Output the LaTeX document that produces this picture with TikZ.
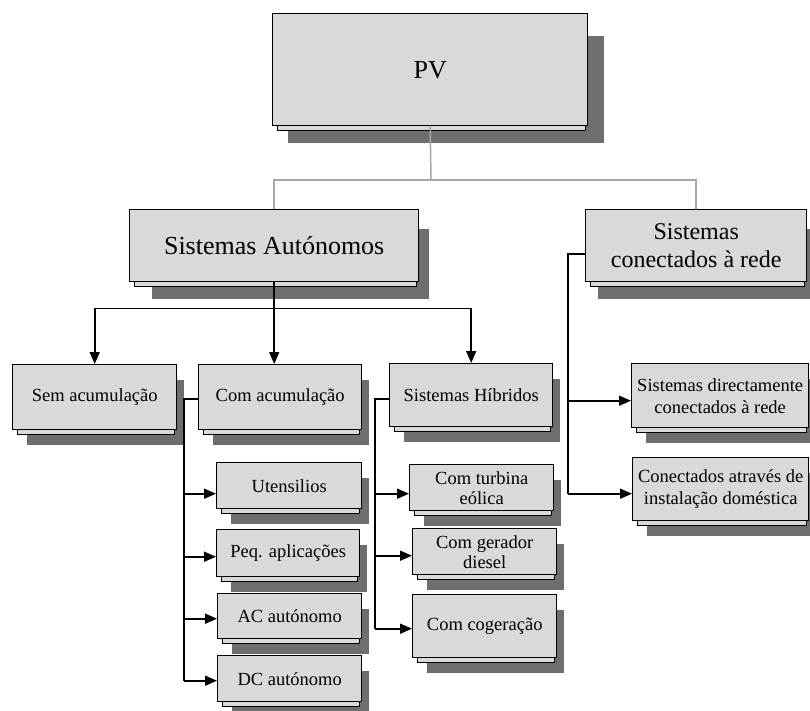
\documentclass[tikz,border=0pt]{standalone}
\usepackage{fontspec}
\setmainfont{Liberation Serif}
\usetikzlibrary{arrows.meta,calc}
\pgfdeclarelayer{background}
\pgfsetlayers{background,main}
\definecolor{boxfill}{HTML}{D9D9D9}
\definecolor{shadowgray}{HTML}{6E6E6E}
\definecolor{treegray}{HTML}{A8A8A8}

\tikzset{
  box/.style={draw=black, line width=1.4pt, fill=boxfill, align=center,
    inner sep=2pt, anchor=north west},
  big/.style={font=\fontsize{26}{30}\selectfont},
  mid/.style={font=\fontsize{24}{28}\selectfont},
  small/.style={font=\fontsize{18.5}{22}\selectfont},
  tight/.style={font=\fontsize{18.5}{20}\selectfont},
  tree/.style={draw=treegray, line width=1.5pt},
  link/.style={draw=black, line width=1.7pt},
  arr/.style={link, -{Triangle[length=12pt,width=10pt]}},
}

% drop shadow plus the thin plate under a box
% #1 node, #2/#3 shadow offset of the upper-left corner, #4/#5 of the lower-right corner
\newcommand\boxlayers[5]{%
  \fill[shadowgray] ($(#1.north west)+(#2,#3)$) rectangle ($(#1.south east)+(#4,#5)$);
  \filldraw[fill=boxfill, draw=black, line width=1pt]
    ($(#1.north west)+(5,5)$) rectangle ($(#1.south east)+(-3,4)$);
}

\begin{document}
\begin{tikzpicture}[x=1pt, y=-1pt]
\useasboundingbox (0,0) rectangle (810,711);

% boxes
\node[box, big, minimum width=315pt, minimum height=112pt] (PV) at (272,13) {PV};
\node[box, big, minimum width=289pt, minimum height=72pt] (SA) at (129,209) {Sistemas Autónomos};
\node[box, mid, minimum width=221pt, minimum height=72pt] (SC) at (585,209) {Sistemas\\conectados à rede};

\node[box, small, minimum width=164pt, minimum height=65pt] (Sem) at (12,364) {Sem acumulação};
\node[box, small, minimum width=163pt, minimum height=65pt] (Com) at (198,364) {Com acumulação};
\node[box, small, minimum width=163pt, minimum height=63pt] (SH) at (389,363) {Sistemas Híbridos};

\node[box, small, minimum width=177pt, minimum height=64pt] (SD) at (631,363) {Sistemas directamente\\conectados à rede};
\node[box, small, minimum width=176pt, minimum height=63pt] (CA) at (632,457) {Conectados através de\\instalação doméstica};

\node[box, small, minimum width=145pt, minimum height=46pt] (Ut) at (216,462) {Utensilios};
\node[box, small, minimum width=143pt, minimum height=47pt] (Peq) at (216,529) {Peq. aplicações};
\node[box, small, minimum width=144pt, minimum height=45pt] (AC) at (217,593) {AC autónomo};
\node[box, small, minimum width=144pt, minimum height=46pt] (DC) at (217,655) {DC autónomo};

\node[box, tight, minimum width=144pt, minimum height=46pt] (CT) at (409,464) {Com turbina\\eólica};
\node[box, tight, minimum width=144pt, minimum height=46pt] (CG) at (412,528) {Com gerador\\diesel};
\node[box, small, minimum width=144pt, minimum height=63pt] (CC) at (412,594) {Com cogeração};

% shadows and plates
\begin{pgfonlayer}{background}
  \boxlayers{PV}{16}{23}{16}{17}
  \boxlayers{SA}{23}{20}{10}{17}
  \boxlayers{SC}{13}{20}{10}{17}
  \foreach \n in {Sem,Com,SH,SD,CA,Ut,Peq,AC,DC,CT,CG,CC}
    {\boxlayers{\n}{15}{16}{7}{15}}
\end{pgfonlayer}

% top-level tree
\coordinate (j) at (431,180);
\draw[tree] (PV.south) -- (j);
\draw[tree] (SA.north) |- (j) -| (SC.north);

% stand-alone systems
\coordinate (sabus) at ($(SA.south)+(0,26)$);
\draw[arr] (SA.south) -- (SA.south |- Com.north);
\draw[arr] (sabus) -| (Sem.north);
\draw[arr] (sabus) -| (SH.north);

% entry points on the left sides
\coordinate (Ut-in) at ($(Ut.west)+(0,8)$);
\coordinate (Peq-in) at ($(Peq.west)+(0,3.5)$);
\coordinate (AC-in) at ($(AC.west)+(0,2.5)$);
\coordinate (DC-in) at ($(DC.west)+(0,2)$);
\coordinate (CT-in) at ($(CT.west)+(0,6)$);
\coordinate (CG-in) at ($(CG.west)+(0,4)$);
\coordinate (CC-in) at ($(CC.west)+(0,2.5)$);
\coordinate (SD-in) at ($(SD.west)+(0,5)$);
\coordinate (CA-in) at ($(CA.west)+(0,4.5)$);

% with storage
\coordinate (cbus) at ($(Com.west)+(-14,2)$);
\draw[link] ($(Com.west)+(0,2)$) -- (cbus) -- (cbus |- DC-in);
\foreach \t in {Ut,Peq,AC,DC}
  {\draw[arr] (cbus |- \t-in) -- (\t-in);}

% hybrid systems
\coordinate (hbus) at ($(SH.west)+(-14,4)$);
\draw[link] ($(SH.west)+(0,4)$) -- (hbus) -- (hbus |- CC-in);
\foreach \t in {CT,CG,CC}
  {\draw[arr] (hbus |- \t-in) -- (\t-in);}

% grid-connected systems
\coordinate (SC-out) at ($(SC.west)+(0,8)$);
\coordinate (sbus) at ($(SC-out)+(-17,0)$);
\draw[link] (SC-out) -- (sbus) -- (sbus |- CA-in);
\foreach \t in {SD,CA}
  {\draw[arr] (sbus |- \t-in) -- (\t-in);}

\end{tikzpicture}
\end{document}
